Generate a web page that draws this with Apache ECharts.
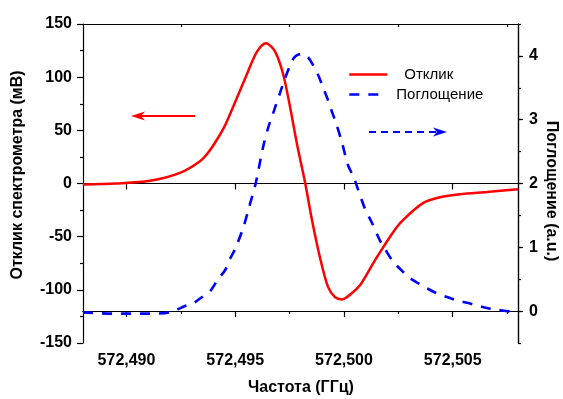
<!DOCTYPE html>
<html>
<head>
<meta charset="utf-8">
<script src="https://cdn.jsdelivr.net/npm/echarts@6/dist/echarts.min.js"></script>
<style>html,body{margin:0;padding:0;background:#fff}#c{width:563px;height:399px}</style>
</head>
<body>
<div id="c"></div>
<script>
// Frequency (GHz) and spectrometer response (mV)
var redFreq = [572.48800,572.48952,572.49108,572.49246,572.49338,572.49375,572.49412,572.49449,572.49490,572.49554,572.49600,572.49641,572.49683,572.49720,572.49752,572.49784,572.49821,572.49853,572.49890,572.49926,572.49959,572.49991,572.50037,572.50074,572.50120,572.50152,572.50225,572.50271,572.50363,572.50441,572.50533,572.50657,572.50800];
var redVal  = [-1,0,2.5,10,21,29,40,53,72,103,124,132,124,103,72,37,1,-34.5,-70,-97,-107,-109,-103,-95.5,-80,-69,-46,-34.5,-18.5,-13,-10,-8,-5.5];
// Frequency (GHz) and absorption (a.u.)
var blueFreq = [572.48800,572.48938,572.49108,572.49200,572.49269,572.49301,572.49343,572.49384,572.49421,572.49453,572.49476,572.49499,572.49536,572.49563,572.49591,572.49600,572.49628,572.49651,572.49674,572.49706,572.49729,572.49752,572.49770,572.49789,572.49807,572.49830,572.49857,572.49885,572.49903,572.49926,572.49945,572.49963,572.49991,572.50018,572.50046,572.50064,572.50097,572.50129,572.50166,572.50189,572.50225,572.50267,572.50303,572.50349,572.50386,572.50432,572.50474,572.50524,572.50566,572.50611,572.50657,572.50703,572.50800];
var blueVal  = [-0.02,-0.04,-0.04,-0.02,0.08,0.11,0.21,0.31,0.5,0.64,0.82,0.97,1.3,1.62,1.96,2.1,2.57,2.87,3.1,3.42,3.65,3.85,3.97,4.02,4.03,4.0,3.86,3.67,3.51,3.31,3.12,2.95,2.64,2.29,2.09,1.91,1.6,1.38,1.1,0.97,0.78,0.63,0.52,0.42,0.35,0.27,0.22,0.16,0.13,0.09,0.05,0.02,-0.02];
var xMajor = [572.490,572.495,572.500,572.505];
var xMinor = [572.4925,572.4975,572.5025,572.5075];
var yRightMajor = [0,1,2,3,4];
var names = ['Отклик','Поглощение'];

var FONT = '"Liberation Sans", Arial, sans-serif';
var redData = redFreq.map(function(f,i){return [f, redVal[i]];});
var blueData = blueFreq.map(function(f,i){return [f, blueVal[i]];});
var axLine = {show:true, lineStyle:{color:'#000', width:1.2}};
var lblStyle = {fontFamily:FONT, fontWeight:'bold', fontSize:16, color:'#000'};
var xMin = 572.488, xMax = 572.508;

var chart = echarts.init(document.getElementById('c'), null, {renderer:'canvas'});
chart.setOption({
  animation:false,
  backgroundColor:'#fff',
  grid:{left:83, right:45, top:24, bottom:56, containLabel:false},
  legend:[
    {data:[names[0]], left:348, top:67, padding:0, itemWidth:38, itemHeight:14,
     itemStyle:{opacity:0}, lineStyle:{width:2.5},
     textStyle:{fontFamily:FONT, fontSize:15, color:'#000', padding:[0,0,0,12]}},
    {data:[names[1]], left:348, top:87, padding:0, itemWidth:34, itemHeight:14,
     itemStyle:{opacity:0}, lineStyle:{width:2.6},
     textStyle:{fontFamily:FONT, fontSize:15, color:'#000', padding:[0,0,0,8]}}
  ],
  xAxis:[
    {type:'value', position:'bottom', min:xMin, max:xMax, axisLine:axLine,
     axisTick:{show:true, length:6, customValues:xMajor, lineStyle:{color:'#000',width:1.2}},
     axisLabel:Object.assign({customValues:xMajor, margin:10, formatter:function(v){return v.toFixed(3).replace('.',',');}}, lblStyle),
     splitLine:{show:false}},
    {type:'value', position:'bottom', min:xMin, max:xMax, axisLine:axLine,
     axisTick:{show:true, length:3, customValues:xMinor, lineStyle:{color:'#000',width:1.2}},
     axisLabel:{show:false}, splitLine:{show:false}},
    {type:'value', position:'top', min:xMin, max:xMax, axisLine:axLine,
     axisTick:{show:true, inside:true, length:6, customValues:xMajor, lineStyle:{color:'#000',width:1.2}},
     axisLabel:{show:false}, splitLine:{show:false}},
    {type:'value', position:'top', min:xMin, max:xMax, axisLine:axLine,
     axisTick:{show:true, inside:true, length:3, customValues:xMinor, lineStyle:{color:'#000',width:1.2}},
     axisLabel:{show:false}, splitLine:{show:false}}
  ],
  yAxis:[
    {type:'value', position:'left', min:-150, max:150, interval:50, axisLine:axLine,
     axisTick:{show:true, length:6, lineStyle:{color:'#000',width:1.2}},
     minorTick:{show:true, splitNumber:2, length:3, lineStyle:{color:'#000',width:1.2}},
     axisLabel:Object.assign({margin:11}, lblStyle), splitLine:{show:false}, minorSplitLine:{show:false}},
    {type:'value', position:'right', min:-0.5, max:4.5, axisLine:axLine,
     axisTick:{show:true, length:5, customValues:yRightMajor, lineStyle:{color:'#000',width:1.2}},
     axisLabel:Object.assign({customValues:yRightMajor, margin:11}, lblStyle), splitLine:{show:false}},
    {type:'value', position:'right', min:-0.5, max:4.5, interval:0.5, axisLine:axLine,
     axisTick:{show:true, length:3, lineStyle:{color:'#000',width:1.2}},
     axisLabel:{show:false}, splitLine:{show:false}}
  ],
  series:[
    {name:names[0], type:'line', xAxisIndex:0, yAxisIndex:0, data:redData, smooth:0.3,
     symbol:'none', lineStyle:{color:'#ff0000', width:2.5}, itemStyle:{color:'#ff0000'}},
    {name:names[1], type:'line', xAxisIndex:0, yAxisIndex:1, data:blueData, smooth:0.3,
     symbol:'none', lineStyle:{color:'#0000ff', width:2.6, type:[10,9]}, itemStyle:{color:'#0000ff'}}
  ],
  graphic:[
    {type:'line', shape:{x1:195, y1:116, x2:140, y2:116}, style:{stroke:'#ff0000', lineWidth:2}},
    {type:'polygon', shape:{points:[[131,116],[145,111.5],[141,116],[145,120.5]]}, style:{fill:'#ff0000'}},
    {type:'line', shape:{x1:369, y1:132, x2:437, y2:132}, style:{stroke:'#0000ff', lineWidth:2, lineDash:[7,5]}},
    {type:'polygon', shape:{points:[[447,132],[433,127.5],[437,132],[433,136.5]]}, style:{fill:'#0000ff'}},
    {type:'text', x:301, y:388, style:{text:'Частота (ГГц)', fontFamily:FONT, fontWeight:'bold', fontSize:16, fill:'#000', textAlign:'center', textVerticalAlign:'middle'}},
    {type:'text', x:18, y:175, rotation:Math.PI/2, style:{text:'Отклик спектрометра (мВ)', fontFamily:FONT, fontWeight:'bold', fontSize:16, fill:'#000', textAlign:'center', textVerticalAlign:'middle'}},
    {type:'text', x:551, y:191, rotation:-Math.PI/2, style:{text:'Поглощение (a.u.)', fontFamily:FONT, fontWeight:'bold', fontSize:16, fill:'#000', textAlign:'center', textVerticalAlign:'middle'}}
  ]
});
</script>
</body>
</html>
